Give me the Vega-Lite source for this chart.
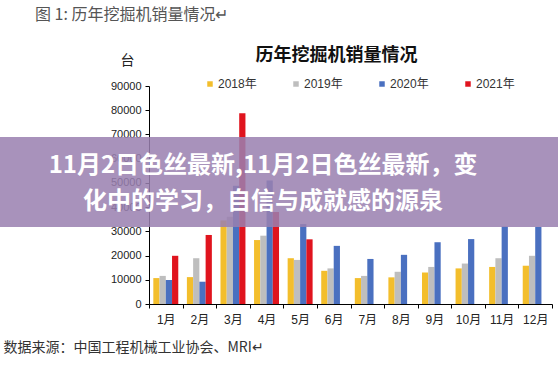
{
  "$schema": "https://vega.github.io/schema/vega-lite/v6.json",
  "width": 403,
  "height": 218,
  "autosize": {"type": "none"},
  "padding": {"left": 149, "top": 86, "right": 6, "bottom": 61},
  "background": "white",
  "config": {
    "view": {"stroke": null},
    "font": "Liberation Sans, Noto Sans CJK SC",
    "title": {"font": "Noto Sans CJK SC"}
  },
  "title": {
    "text": "历年挖掘机销量情况",
    "frame": "group",
    "anchor": "middle",
    "dx": -14,
    "dy": 72,
    "offset": 14,
    "fontSize": 18,
    "fontWeight": "bold",
    "color": "#111"
  },
  "datasets": {
    "sales": [
      {"month": "1月", "year": "2018年", "value": 10700},
      {"month": "2月", "year": "2018年", "value": 11100},
      {"month": "3月", "year": "2018年", "value": 34500},
      {"month": "4月", "year": "2018年", "value": 26400},
      {"month": "5月", "year": "2018年", "value": 18900},
      {"month": "6月", "year": "2018年", "value": 13700},
      {"month": "7月", "year": "2018年", "value": 10700},
      {"month": "8月", "year": "2018年", "value": 11000},
      {"month": "9月", "year": "2018年", "value": 13000},
      {"month": "10月", "year": "2018年", "value": 14700},
      {"month": "11月", "year": "2018年", "value": 15300},
      {"month": "12月", "year": "2018年", "value": 15800},
      {"month": "1月", "year": "2019年", "value": 11600},
      {"month": "2月", "year": "2019年", "value": 18900},
      {"month": "3月", "year": "2019年", "value": 36000},
      {"month": "4月", "year": "2019年", "value": 28200},
      {"month": "5月", "year": "2019年", "value": 18200},
      {"month": "6月", "year": "2019年", "value": 14700},
      {"month": "7月", "year": "2019年", "value": 11600},
      {"month": "8月", "year": "2019年", "value": 13300},
      {"month": "9月", "year": "2019年", "value": 15300},
      {"month": "10月", "year": "2019年", "value": 16700},
      {"month": "11月", "year": "2019年", "value": 18900},
      {"month": "12月", "year": "2019年", "value": 19900},
      {"month": "1月", "year": "2020年", "value": 9900},
      {"month": "2月", "year": "2020年", "value": 9200},
      {"month": "3月", "year": "2020年", "value": 48800},
      {"month": "4月", "year": "2020年", "value": 51000},
      {"month": "5月", "year": "2020年", "value": 33000},
      {"month": "6月", "year": "2020年", "value": 24000},
      {"month": "7月", "year": "2020年", "value": 18600},
      {"month": "8月", "year": "2020年", "value": 20300},
      {"month": "9月", "year": "2020年", "value": 25500},
      {"month": "10月", "year": "2020年", "value": 26800},
      {"month": "11月", "year": "2020年", "value": 32000},
      {"month": "12月", "year": "2020年", "value": 31800},
      {"month": "1月", "year": "2021年", "value": 19900},
      {"month": "2月", "year": "2021年", "value": 28500},
      {"month": "3月", "year": "2021年", "value": 78700},
      {"month": "4月", "year": "2021年", "value": 38000},
      {"month": "5月", "year": "2021年", "value": 26700}
    ]
  },
  "layer": [
    {
      "data": {"name": "sales"},
      "mark": {"type": "bar"},
      "encoding": {
        "x": {
          "field": "month",
          "type": "nominal",
          "sort": ["1月","2月","3月","4月","5月","6月","7月","8月","9月","10月","11月","12月"],
          "scale": {"paddingInner": 0, "paddingOuter": 0},
          "axis": {
            "tickBand": "extent",
            "labelAngle": 0,
            "domainColor": "#000",
            "tickColor": "#000",
            "tickSize": 4,
            "labelFontSize": 12,
            "labelColor": "#222",
            "labelPadding": 6,
            "title": "数据来源：中国工程机械工业协会、MRI↵",
            "titleX": -146,
            "titleY": 43,
            "titleAlign": "left",
            "titleAnchor": "start",
            "titleBaseline": "middle",
            "titleFontSize": 14,
            "titleFontWeight": "normal",
            "titleColor": "#333",
            "titleFont": "Noto Sans CJK SC"
          }
        },
        "xOffset": {
          "field": "year",
          "type": "nominal",
          "scale": {"paddingInner": 0, "paddingOuter": 0.69}
        },
        "y": {
          "field": "value",
          "type": "quantitative",
          "scale": {"domain": [0, 90000], "nice": false},
          "axis": {
            "values": [0,10000,20000,30000,40000,50000,60000,70000,80000,90000],
            "format": "d",
            "grid": false,
            "domainColor": "#000",
            "tickColor": "#000",
            "tickSize": 4,
            "labelFontSize": 11,
            "labelColor": "#222",
            "labelPadding": 4,
            "title": "台",
            "titleAngle": 0,
            "titleX": -22,
            "titleY": -26,
            "titleAlign": "center",
            "titleBaseline": "middle",
            "titleFontSize": 14,
            "titleFontWeight": "normal",
            "titleColor": "#222",
            "titleFont": "Noto Sans CJK SC"
          }
        },
        "color": {
          "field": "year",
          "type": "nominal",
          "scale": {
            "domain": ["2018年","2019年","2020年","2021年"],
            "range": ["#F3BE2C","#BEBEBE","#4A70C0","#E0141E"]
          },
          "legend": {
            "orient": "none",
            "legendX": 55,
            "legendY": -8,
            "direction": "horizontal",
            "columns": 4,
            "title": null,
            "symbolType": "square",
            "symbolSize": 30,
            "labelFontSize": 12,
            "labelColor": "#333",
            "columnPadding": 33,
            "labelOffset": 2
          }
        }
      }
    },
    {
      "data": {"values": [{"t": "图 1:  历年挖掘机销量情况↵"}]},
      "mark": {"type": "text", "align": "left", "baseline": "middle", "fontSize": 16, "font": "Noto Sans CJK SC", "color": "#555", "x": -114, "y": -71},
      "encoding": {"text": {"field": "t"}}
    },
    {
      "data": {"values": [{"t": "banner"}]},
      "mark": {"type": "rect", "color": "#9A80B0", "opacity": 0.86, "x": -149, "x2": 409, "y": 51, "y2": 141, "clip": false},
      "encoding": {}
    },
    {
      "data": {"values": [{"t": "11月2日色丝最新,11月2日色丝最新，变\n化中的学习，自信与成就感的源泉"}]},
      "mark": {"type": "text", "align": "center", "baseline": "middle", "fontSize": 24, "fontWeight": "bold", "font": "Noto Sans CJK SC", "color": "white", "lineBreak": "\n", "lineHeight": 36, "x": 114, "y": 80},
      "encoding": {"text": {"field": "t"}}
    }
  ]
}
